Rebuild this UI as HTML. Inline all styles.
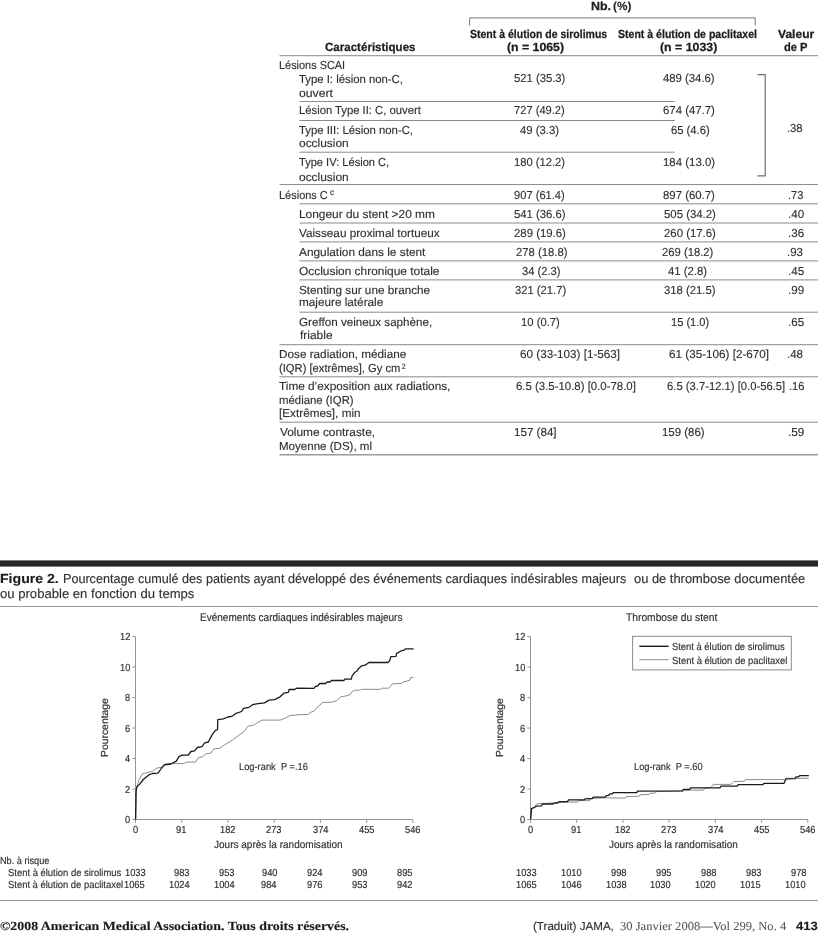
<!DOCTYPE html>
<html lang="fr">
<head>
<meta charset="utf-8">
<title>Figure 2 – JAMA, 30 Janvier 2008</title>
<style>
html,body{margin:0;padding:0;background:#fff}
body{width:819px;height:934px;position:relative;overflow:hidden;font-family:"Liberation Sans",sans-serif}
.g{position:absolute;left:0;top:0}
.t{position:absolute;white-space:pre;transform-origin:0 0;line-height:1;text-rendering:geometricPrecision;-webkit-text-stroke:0.14px currentColor}
section,figure,figcaption,footer,.plots{margin:0;padding:0;display:block;position:static}
</style>
</head>
<body>
<svg class="g" width="819" height="934" viewBox="0 0 819 934">
<line x1="279.5" y1="55.7" x2="818" y2="55.7" stroke="#8a8a8a" stroke-width="1"/>
<line x1="299.5" y1="101.5" x2="674.7" y2="101.5" stroke="#8a8a8a" stroke-width="1"/>
<line x1="299.5" y1="120.5" x2="674.7" y2="120.5" stroke="#8a8a8a" stroke-width="1"/>
<line x1="299.5" y1="152.2" x2="674.7" y2="152.2" stroke="#8a8a8a" stroke-width="1"/>
<line x1="279.5" y1="184.55" x2="818" y2="184.55" stroke="#8a8a8a" stroke-width="1"/>
<line x1="299.5" y1="203.8" x2="818" y2="203.8" stroke="#8a8a8a" stroke-width="1"/>
<line x1="299.5" y1="223.0" x2="818" y2="223.0" stroke="#8a8a8a" stroke-width="1"/>
<line x1="299.5" y1="241.9" x2="818" y2="241.9" stroke="#8a8a8a" stroke-width="1"/>
<line x1="299.5" y1="260.9" x2="818" y2="260.9" stroke="#8a8a8a" stroke-width="1"/>
<line x1="299.5" y1="279.9" x2="818" y2="279.9" stroke="#8a8a8a" stroke-width="1"/>
<line x1="299.5" y1="312.2" x2="818" y2="312.2" stroke="#8a8a8a" stroke-width="1"/>
<line x1="279.5" y1="344.7" x2="818" y2="344.7" stroke="#8a8a8a" stroke-width="1"/>
<line x1="279.5" y1="376.8" x2="818" y2="376.8" stroke="#8a8a8a" stroke-width="1"/>
<line x1="279.5" y1="422.2" x2="818" y2="422.2" stroke="#8a8a8a" stroke-width="1"/>
<line x1="279.5" y1="454.8" x2="818" y2="454.8" stroke="#9a9a9a" stroke-width="1.6"/>
<polyline points="469.6,25.6 469.6,17.9 755.2,17.9 755.2,25.6" fill="none" stroke="#787878" stroke-width="1"/>
<polyline points="757.4,74.7 765.2,74.7 765.2,175.9 757.4,175.9" fill="none" stroke="#707070" stroke-width="1.2"/>
<rect x="0" y="560.4" width="818" height="6.2" fill="#262626"/>
<line x1="0" y1="606.5" x2="818" y2="606.5" stroke="#7a7a7a" stroke-width="0.75"/>
<line x1="0" y1="900.5" x2="818" y2="900.5" stroke="#7a7a7a" stroke-width="0.75"/>
<line x1="135.5" y1="636.62" x2="135.5" y2="819.5" stroke="#969696" stroke-width="1"/>
<line x1="135.5" y1="819.5" x2="412.82" y2="819.5" stroke="#969696" stroke-width="1"/>
<line x1="132.3" y1="819.5" x2="135.5" y2="819.5" stroke="#969696" stroke-width="1"/>
<line x1="132.3" y1="789.02" x2="135.5" y2="789.02" stroke="#969696" stroke-width="1"/>
<line x1="132.3" y1="758.54" x2="135.5" y2="758.54" stroke="#969696" stroke-width="1"/>
<line x1="132.3" y1="728.06" x2="135.5" y2="728.06" stroke="#969696" stroke-width="1"/>
<line x1="132.3" y1="697.58" x2="135.5" y2="697.58" stroke="#969696" stroke-width="1"/>
<line x1="132.3" y1="667.1" x2="135.5" y2="667.1" stroke="#969696" stroke-width="1"/>
<line x1="132.3" y1="636.62" x2="135.5" y2="636.62" stroke="#969696" stroke-width="1"/>
<line x1="135.5" y1="819.5" x2="135.5" y2="822.9" stroke="#969696" stroke-width="1"/>
<line x1="181.72" y1="819.5" x2="181.72" y2="822.9" stroke="#969696" stroke-width="1"/>
<line x1="227.94" y1="819.5" x2="227.94" y2="822.9" stroke="#969696" stroke-width="1"/>
<line x1="274.16" y1="819.5" x2="274.16" y2="822.9" stroke="#969696" stroke-width="1"/>
<line x1="320.38" y1="819.5" x2="320.38" y2="822.9" stroke="#969696" stroke-width="1"/>
<line x1="366.6" y1="819.5" x2="366.6" y2="822.9" stroke="#969696" stroke-width="1"/>
<line x1="412.82" y1="819.5" x2="412.82" y2="822.9" stroke="#969696" stroke-width="1"/>
<line x1="530.5" y1="636.62" x2="530.5" y2="819.5" stroke="#969696" stroke-width="1"/>
<line x1="530.5" y1="819.5" x2="807.82" y2="819.5" stroke="#969696" stroke-width="1"/>
<line x1="527.3" y1="819.5" x2="530.5" y2="819.5" stroke="#969696" stroke-width="1"/>
<line x1="527.3" y1="789.02" x2="530.5" y2="789.02" stroke="#969696" stroke-width="1"/>
<line x1="527.3" y1="758.54" x2="530.5" y2="758.54" stroke="#969696" stroke-width="1"/>
<line x1="527.3" y1="728.06" x2="530.5" y2="728.06" stroke="#969696" stroke-width="1"/>
<line x1="527.3" y1="697.58" x2="530.5" y2="697.58" stroke="#969696" stroke-width="1"/>
<line x1="527.3" y1="667.1" x2="530.5" y2="667.1" stroke="#969696" stroke-width="1"/>
<line x1="527.3" y1="636.62" x2="530.5" y2="636.62" stroke="#969696" stroke-width="1"/>
<line x1="530.5" y1="819.5" x2="530.5" y2="822.9" stroke="#969696" stroke-width="1"/>
<line x1="576.72" y1="819.5" x2="576.72" y2="822.9" stroke="#969696" stroke-width="1"/>
<line x1="622.94" y1="819.5" x2="622.94" y2="822.9" stroke="#969696" stroke-width="1"/>
<line x1="669.16" y1="819.5" x2="669.16" y2="822.9" stroke="#969696" stroke-width="1"/>
<line x1="715.38" y1="819.5" x2="715.38" y2="822.9" stroke="#969696" stroke-width="1"/>
<line x1="761.6" y1="819.5" x2="761.6" y2="822.9" stroke="#969696" stroke-width="1"/>
<line x1="807.82" y1="819.5" x2="807.82" y2="822.9" stroke="#969696" stroke-width="1"/>
<rect x="632.6" y="636.3" width="158.7" height="33.6" fill="#fff" stroke="#8a8a8a" stroke-width="1"/>
<line x1="639.3" y1="646.3" x2="668.6" y2="646.3" stroke="#1a1a1a" stroke-width="1.4"/>
<line x1="639.3" y1="659.7" x2="668.6" y2="659.7" stroke="#909090" stroke-width="1"/>
<polyline points="135.6,819.5 136.4,789.6 138.7,780.4 142.4,773.7 147,772.7 152.5,771.3 157,768 161.6,767.3 164.4,764 172.6,763.6 183.6,763.6 186.4,762.1 195.5,762.1 198.3,757.5 202.8,756.6 205.6,753.9 211.1,753 213.8,748.9 219.3,748.4 224.8,744.7 229.4,742 232.5,739.9 238.9,735.3 243.5,732.2 248,726.2 253.5,725.2 261.8,720.1 280.1,720.1 285.6,717.9 289.2,715.7 300.2,714.6 308.1,714.5 311,712.1 313.9,711.3 316.1,708.4 322.7,702.5 331.5,702.2 335.9,701.1 341,696.7 346.2,695.9 350.5,694.5 351.3,692.3 354.2,690.4 360.1,690.1 361.5,689.3 380.6,689.3 382.1,688.2 388.6,688.2 392.3,683.8 401.1,683.5 403.3,682 406.2,681.3 409.9,680.1 410.6,677.6 413.6,677.2" fill="none" stroke="#8c8c8c" stroke-width="1.0" stroke-linejoin="round"/>
<polyline points="135.6,819.5 136,791.4 136.9,786.8 139.7,784.1 143.3,779.5 148.8,774.9 152.5,773.5 158,773.1 161.6,768 164.4,764.9 170.8,764 176.3,761.2 179,756.6 181.8,755.2 188.2,755.2 190.9,751.5 194.6,750.8 197.3,747.5 201.9,746.6 204.7,742.9 208.3,742 210.2,738.3 212.9,733.7 215.7,730.1 217.5,729.8 217.8,719.7 223.3,718.8 227.9,717 232.5,716.1 236.1,713.3 241.6,711.5 243.5,708.4 249,707.3 252.6,704.7 258.1,703.6 264.5,702.9 269.1,700.1 274.6,699.6 280.1,696.8 283.8,693.2 288.3,692.3 289.2,689.5 294.7,689.5 296.6,688.2 313.9,688.3 315.4,686.4 317.6,686 319.8,683.5 325.6,683.5 327.1,682 330,682 331.5,680.5 344,680.5 344.7,679.1 351.3,679.1 352,676.2 354.9,672.2 357.1,671 358.6,668.4 361.5,665.9 365.2,665.2 368.9,662.5 387.9,662.5 389.7,660.8 390.8,656.7 396,656.4 396.7,653.4 400.4,651.2 404,650.2 405.5,648.8 413.6,648.8" fill="none" stroke="#1a1a1a" stroke-width="1.3" stroke-linejoin="round"/>
<polyline points="530.6,819.3 531.9,809.5 534.7,806.7 536.5,804 542,803.6 568.5,802.1 577.7,802.1 578.6,800.5 589.6,800.7 590.5,798.5 606.1,797.8 625.3,798.1 626.2,796.6 639,796.3 640,794.8 649.1,794.4 650,793.3 655.5,793 656.4,791.5 682,791 690.6,790.2 703.5,790.2 704.4,788.4 710.8,787.5 713.5,784.4 730.9,784.4 733.7,781.6 744.7,781.2 745.6,779.6 785,779.6 785.9,778.3 808.8,778.3" fill="none" stroke="#8c8c8c" stroke-width="1.0" stroke-linejoin="round"/>
<polyline points="530.6,819.3 531.4,808.5 534.7,807.3 536.5,806.2 541.6,805.8 542.3,804 553,804 554.8,803 557.5,803 558.8,801.6 567.6,801.6 568.5,799.9 584.1,799.9 585,798.8 592.3,798.5 593.3,797.2 605.2,797.2 606.1,795.7 608.8,795.3 609.7,793.9 612.5,793.9 613.4,792.6 636.8,792.6 637.6,791.1 682.4,790.8 683.3,789.3 689.7,789.3 690.6,787.8 719.9,787.8 720.9,786.2 737.3,786.2 738.3,784.7 763,784.7 763.9,783.3 784,783.3 785.9,778.9 795,778.7 796,776.8 798.7,776.8 799.6,775.6 808.8,775.6" fill="none" stroke="#1a1a1a" stroke-width="1.3" stroke-linejoin="round"/>
</svg>
<section class="tbl" aria-label="Tableau">
<span class="t" style="left:590.81px;top:1px;font:700 11.8px/1 'Liberation Sans', sans-serif;-webkit-text-stroke-width:0.25px;color:#1c1c1c;transform:scaleX(1.0514);">Nb.</span>
<span class="t" style="left:613.00px;top:1px;font:700 11.8px/1 'Liberation Sans', sans-serif;-webkit-text-stroke-width:0.12px;color:#222;">(%)</span>
<span class="t" style="left:469.98px;top:29px;font:700 11.8px/1 'Liberation Sans', sans-serif;-webkit-text-stroke-width:0.25px;color:#1c1c1c;transform:scaleX(0.8906);">Stent à élution de sirolimus</span>
<span class="t" style="left:507.38px;top:42px;font:700 11.8px/1 'Liberation Sans', sans-serif;-webkit-text-stroke-width:0.25px;color:#1c1c1c;transform:scaleX(1.0419);">(n = 1065)</span>
<span class="t" style="left:617.78px;top:29px;font:700 11.8px/1 'Liberation Sans', sans-serif;-webkit-text-stroke-width:0.25px;color:#1c1c1c;transform:scaleX(0.8947);">Stent à élution de paclitaxel</span>
<span class="t" style="left:659.78px;top:42px;font:700 11.8px/1 'Liberation Sans', sans-serif;-webkit-text-stroke-width:0.25px;color:#1c1c1c;transform:scaleX(1.0456);">(n = 1033)</span>
<span class="t" style="left:325.21px;top:42px;font:700 11.8px/1 'Liberation Sans', sans-serif;-webkit-text-stroke-width:0.25px;color:#1c1c1c;transform:scaleX(0.9792);">Caractéristiques</span>
<span class="t" style="left:778.20px;top:29px;font:700 11.8px/1 'Liberation Sans', sans-serif;-webkit-text-stroke-width:0.25px;color:#1c1c1c;transform:scaleX(1.0241);">Valeur</span>
<span class="t" style="left:784.13px;top:42px;font:700 11.8px/1 'Liberation Sans', sans-serif;-webkit-text-stroke-width:0.25px;color:#1c1c1c;transform:scaleX(0.9443);">de P</span>
<span class="t" style="left:279.19px;top:60px;font:400 11.6px/1 'Liberation Sans', sans-serif;color:#303030;transform:scaleX(0.9416);">Lésions SCAI</span>
<span class="t" style="left:299.46px;top:74px;font:400 11.6px/1 'Liberation Sans', sans-serif;color:#303030;transform:scaleX(0.9777);">Type I: lésion non-C,</span>
<span class="t" style="left:299.17px;top:88px;font:400 11.6px/1 'Liberation Sans', sans-serif;color:#303030;transform:scaleX(1.0551);">ouvert</span>
<span class="t" style="left:298.97px;top:105px;font:400 11.6px/1 'Liberation Sans', sans-serif;color:#303030;transform:scaleX(0.9707);">Lésion Type II: C, ouvert</span>
<span class="t" style="left:299.46px;top:125px;font:400 11.6px/1 'Liberation Sans', sans-serif;color:#303030;transform:scaleX(0.9775);">Type III: Lésion non-C,</span>
<span class="t" style="left:299.19px;top:138px;font:400 11.6px/1 'Liberation Sans', sans-serif;color:#303030;transform:scaleX(1.0286);">occlusion</span>
<span class="t" style="left:299.46px;top:157px;font:400 11.6px/1 'Liberation Sans', sans-serif;color:#303030;transform:scaleX(0.9559);">Type IV: Lésion C,</span>
<span class="t" style="left:299.19px;top:172px;font:400 11.6px/1 'Liberation Sans', sans-serif;color:#303030;transform:scaleX(1.0286);">occlusion</span>
<span class="t" style="left:278.89px;top:190px;font:400 11.6px/1 'Liberation Sans', sans-serif;color:#303030;transform:scaleX(0.9465);">Lésions C</span>
<span class="t" style="left:298.93px;top:209px;font:400 11.6px/1 'Liberation Sans', sans-serif;color:#303030;transform:scaleX(1.0260);">Longeur du stent &gt;20 mm</span>
<span class="t" style="left:299.20px;top:228px;font:400 11.6px/1 'Liberation Sans', sans-serif;color:#303030;transform:scaleX(1.0122);">Vaisseau proximal tortueux</span>
<span class="t" style="left:299.20px;top:247px;font:400 11.6px/1 'Liberation Sans', sans-serif;color:#303030;transform:scaleX(1.0214);">Angulation dans le stent</span>
<span class="t" style="left:299.19px;top:266px;font:400 11.6px/1 'Liberation Sans', sans-serif;color:#303030;transform:scaleX(1.0276);">Occlusion chronique totale</span>
<span class="t" style="left:299.19px;top:285px;font:400 11.6px/1 'Liberation Sans', sans-serif;color:#303030;transform:scaleX(1.0120);">Stenting sur une branche</span>
<span class="t" style="left:298.94px;top:297px;font:400 11.6px/1 'Liberation Sans', sans-serif;color:#303030;transform:scaleX(1.0134);">majeure latérale</span>
<span class="t" style="left:299.20px;top:317px;font:400 11.6px/1 'Liberation Sans', sans-serif;color:#303030;transform:scaleX(1.0053);">Greffon veineux saphène,</span>
<span class="t" style="left:299.70px;top:330px;font:400 11.6px/1 'Liberation Sans', sans-serif;color:#303030;transform:scaleX(1.0304);">friable</span>
<span class="t" style="left:278.84px;top:349px;font:400 11.6px/1 'Liberation Sans', sans-serif;color:#303030;transform:scaleX(1.0129);">Dose radiation, médiane</span>
<span class="t" style="left:279.12px;top:363px;font:400 11.6px/1 'Liberation Sans', sans-serif;color:#303030;transform:scaleX(0.9663);">(IQR) [extrêmes], Gy cm</span>
<span class="t" style="left:279.35px;top:381px;font:400 11.6px/1 'Liberation Sans', sans-serif;color:#303030;transform:scaleX(1.0176);">Time d’exposition aux radiations,</span>
<span class="t" style="left:278.86px;top:395px;font:400 11.6px/1 'Liberation Sans', sans-serif;color:#303030;transform:scaleX(0.9819);">médiane (IQR)</span>
<span class="t" style="left:278.84px;top:408px;font:400 11.6px/1 'Liberation Sans', sans-serif;color:#303030;transform:scaleX(1.0127);">[Extrêmes], min</span>
<span class="t" style="left:279.60px;top:427px;font:400 11.6px/1 'Liberation Sans', sans-serif;color:#303030;transform:scaleX(1.0245);">Volume contraste,</span>
<span class="t" style="left:278.85px;top:441px;font:400 11.6px/1 'Liberation Sans', sans-serif;color:#303030;transform:scaleX(0.9957);">Moyenne (DS), ml</span>
<span class="t" style="left:329.75px;top:188px;font:400 8.4px/1 'Liberation Sans', sans-serif;color:#303030;transform:scaleX(0.9867);">c</span>
<span class="t" style="left:401.59px;top:363px;font:400 7.6px/1 'Liberation Sans', sans-serif;color:#303030;transform:scaleX(0.8533);">2</span>
<span class="t" style="left:513.81px;top:73px;font:400 11.6px/1 'Liberation Sans', sans-serif;color:#303030;transform:scaleX(0.9700);">521 (35.3)</span>
<span class="t" style="left:514.32px;top:105px;font:400 11.6px/1 'Liberation Sans', sans-serif;color:#303030;transform:scaleX(0.9604);">727 (49.2)</span>
<span class="t" style="left:520.36px;top:125px;font:400 11.6px/1 'Liberation Sans', sans-serif;color:#303030;transform:scaleX(0.9769);">49 (3.3)</span>
<span class="t" style="left:514.08px;top:157px;font:400 11.6px/1 'Liberation Sans', sans-serif;color:#303030;transform:scaleX(0.9650);">180 (12.2)</span>
<span class="t" style="left:514.32px;top:190px;font:400 11.6px/1 'Liberation Sans', sans-serif;color:#303030;transform:scaleX(0.9604);">907 (61.4)</span>
<span class="t" style="left:514.31px;top:209px;font:400 11.6px/1 'Liberation Sans', sans-serif;color:#303030;transform:scaleX(0.9739);">541 (36.6)</span>
<span class="t" style="left:513.91px;top:228px;font:400 11.6px/1 'Liberation Sans', sans-serif;color:#303030;transform:scaleX(0.9816);">289 (19.6)</span>
<span class="t" style="left:515.71px;top:247px;font:400 11.6px/1 'Liberation Sans', sans-serif;color:#303030;transform:scaleX(0.9739);">278 (18.8)</span>
<span class="t" style="left:521.52px;top:266px;font:400 11.6px/1 'Liberation Sans', sans-serif;color:#303030;transform:scaleX(0.9652);">34 (2.3)</span>
<span class="t" style="left:514.62px;top:285px;font:400 11.6px/1 'Liberation Sans', sans-serif;color:#303030;transform:scaleX(0.9681);">321 (21.7)</span>
<span class="t" style="left:521.27px;top:317px;font:400 11.6px/1 'Liberation Sans', sans-serif;color:#303030;transform:scaleX(0.9714);">10 (0.7)</span>
<span class="t" style="left:520.10px;top:349px;font:400 11.6px/1 'Liberation Sans', sans-serif;color:#303030;transform:scaleX(1.0082);">60 (33-103) [1-563]</span>
<span class="t" style="left:516.31px;top:381px;font:400 11.6px/1 'Liberation Sans', sans-serif;color:#303030;transform:scaleX(0.9842);">6.5 (3.5-10.8) [0.0-78.0]</span>
<span class="t" style="left:514.05px;top:427px;font:400 11.6px/1 'Liberation Sans', sans-serif;color:#303030;">157 (84]</span>
<span class="t" style="left:663.06px;top:73px;font:400 11.6px/1 'Liberation Sans', sans-serif;color:#303030;transform:scaleX(0.9769);">489 (34.6)</span>
<span class="t" style="left:662.81px;top:105px;font:400 11.6px/1 'Liberation Sans', sans-serif;color:#303030;transform:scaleX(0.9816);">674 (47.7)</span>
<span class="t" style="left:671.02px;top:125px;font:400 11.6px/1 'Liberation Sans', sans-serif;color:#303030;transform:scaleX(0.9677);">65 (4.6)</span>
<span class="t" style="left:662.56px;top:157px;font:400 11.6px/1 'Liberation Sans', sans-serif;color:#303030;transform:scaleX(0.9864);">184 (13.0)</span>
<span class="t" style="left:662.81px;top:190px;font:400 11.6px/1 'Liberation Sans', sans-serif;color:#303030;transform:scaleX(0.9816);">897 (60.7)</span>
<span class="t" style="left:663.51px;top:209px;font:400 11.6px/1 'Liberation Sans', sans-serif;color:#303030;transform:scaleX(0.9816);">505 (34.2)</span>
<span class="t" style="left:663.51px;top:228px;font:400 11.6px/1 'Liberation Sans', sans-serif;color:#303030;transform:scaleX(0.9816);">260 (17.6)</span>
<span class="t" style="left:662.21px;top:247px;font:400 11.6px/1 'Liberation Sans', sans-serif;color:#303030;transform:scaleX(0.9720);">269 (18.2)</span>
<span class="t" style="left:668.16px;top:266px;font:400 11.6px/1 'Liberation Sans', sans-serif;color:#303030;transform:scaleX(0.9795);">41 (2.8)</span>
<span class="t" style="left:664.21px;top:285px;font:400 11.6px/1 'Liberation Sans', sans-serif;color:#303030;transform:scaleX(0.9739);">318 (21.5)</span>
<span class="t" style="left:670.78px;top:317px;font:400 11.6px/1 'Liberation Sans', sans-serif;color:#303030;transform:scaleX(0.9558);">15 (1.0)</span>
<span class="t" style="left:669.30px;top:349px;font:400 11.6px/1 'Liberation Sans', sans-serif;color:#303030;transform:scaleX(1.0082);">61 (35-106) [2-670]</span>
<span class="t" style="left:666.91px;top:381px;font:400 11.6px/1 'Liberation Sans', sans-serif;color:#303030;transform:scaleX(0.9701);">6.5 (3.7-12.1) [0.0-56.5]</span>
<span class="t" style="left:661.96px;top:427px;font:400 11.6px/1 'Liberation Sans', sans-serif;color:#303030;transform:scaleX(0.9868);">159 (86)</span>
<span class="t" style="left:786.73px;top:123px;font:400 11.6px/1 'Liberation Sans', sans-serif;color:#303030;transform:scaleX(0.9695);">.38</span>
<span class="t" style="left:788.05px;top:190px;font:400 11.6px/1 'Liberation Sans', sans-serif;color:#303030;transform:scaleX(0.9492);">.73</span>
<span class="t" style="left:788.00px;top:209px;font:400 11.6px/1 'Liberation Sans', sans-serif;color:#303030;">.40</span>
<span class="t" style="left:788.00px;top:228px;font:400 11.6px/1 'Liberation Sans', sans-serif;color:#303030;">.36</span>
<span class="t" style="left:786.71px;top:247px;font:400 11.6px/1 'Liberation Sans', sans-serif;color:#303030;transform:scaleX(0.9898);">.93</span>
<span class="t" style="left:788.00px;top:266px;font:400 11.6px/1 'Liberation Sans', sans-serif;color:#303030;">.45</span>
<span class="t" style="left:788.00px;top:285px;font:400 11.6px/1 'Liberation Sans', sans-serif;color:#303030;">.99</span>
<span class="t" style="left:788.00px;top:317px;font:400 11.6px/1 'Liberation Sans', sans-serif;color:#303030;">.65</span>
<span class="t" style="left:786.71px;top:349px;font:400 11.6px/1 'Liberation Sans', sans-serif;color:#303030;transform:scaleX(0.9898);">.48</span>
<span class="t" style="left:788.65px;top:381px;font:400 11.6px/1 'Liberation Sans', sans-serif;color:#303030;transform:scaleX(0.9492);">.16</span>
<span class="t" style="left:787.98px;top:427px;font:400 11.6px/1 'Liberation Sans', sans-serif;color:#303030;transform:scaleX(1.0169);">.59</span>
</section>
<figure class="fig">
<figcaption>
<span class="t" style="left:-0.00px;top:572px;font:700 13.2px/1 'Liberation Sans', sans-serif;color:#1c1c1c;transform:scaleX(1.0692);">Figure 2.</span>
<span class="t" style="left:62.63px;top:572px;font:400 13.0px/1 'Liberation Sans', sans-serif;color:#303030;transform:scaleX(0.9694);">Pourcentage cumulé des patients ayant développé des événements cardiaques indésirables majeurs</span>
<span class="t" style="left:634.30px;top:572px;font:400 13.0px/1 'Liberation Sans', sans-serif;color:#303030;transform:scaleX(0.9916);">ou de thrombose documentée</span>
<span class="t" style="left:-0.00px;top:587px;font:400 13.0px/1 'Liberation Sans', sans-serif;color:#303030;transform:scaleX(1.0075);">ou probable en fonction du temps</span>
</figcaption>
<div class="plots">
<span class="t" style="left:200.32px;top:613px;font:400 11.0px/1 'Liberation Sans', sans-serif;-webkit-text-stroke-width:0.16px;color:#303030;transform:scaleX(0.9122);">Evénements cardiaques indésirables majeurs</span>
<span class="t" style="left:626.27px;top:613px;font:400 11.0px/1 'Liberation Sans', sans-serif;-webkit-text-stroke-width:0.16px;color:#303030;transform:scaleX(0.9333);">Thrombose du stent</span>
<span class="t" style="left:672.14px;top:643px;font:400 10.2px/1 'Liberation Sans', sans-serif;-webkit-text-stroke-width:0.16px;color:#303030;transform:scaleX(0.9218);">Stent à élution de sirolimus</span>
<span class="t" style="left:672.14px;top:657px;font:400 10.2px/1 'Liberation Sans', sans-serif;-webkit-text-stroke-width:0.16px;color:#303030;transform:scaleX(0.9263);">Stent à élution de paclitaxel</span>
<span class="t" style="left:239.02px;top:763px;font:400 10.2px/1 'Liberation Sans', sans-serif;-webkit-text-stroke-width:0.16px;color:#303030;transform:scaleX(0.9131);">Log-rank  P =.16</span>
<span class="t" style="left:634.02px;top:763px;font:400 10.2px/1 'Liberation Sans', sans-serif;-webkit-text-stroke-width:0.16px;color:#303030;transform:scaleX(0.9101);">Log-rank  P =.60</span>
<span class="t" style="left:214.40px;top:840px;font:400 10.6px/1 'Liberation Sans', sans-serif;-webkit-text-stroke-width:0.16px;color:#303030;transform:scaleX(0.9454);">Jours après la randomisation</span>
<span class="t" style="left:609.20px;top:840px;font:400 10.6px/1 'Liberation Sans', sans-serif;-webkit-text-stroke-width:0.16px;color:#303030;transform:scaleX(0.9476);">Jours après la randomisation</span>
<span class="t" style="left:0.33px;top:857px;font:400 10.2px/1 'Liberation Sans', sans-serif;-webkit-text-stroke-width:0.16px;color:#303030;transform:scaleX(0.8986);">Nb. à risque</span>
<span class="t" style="left:7.74px;top:869px;font:400 10.2px/1 'Liberation Sans', sans-serif;-webkit-text-stroke-width:0.16px;color:#303030;transform:scaleX(0.9259);">Stent à élution de sirolimus</span>
<span class="t" style="left:7.74px;top:881px;font:400 10.2px/1 'Liberation Sans', sans-serif;-webkit-text-stroke-width:0.16px;color:#303030;transform:scaleX(0.9247);">Stent à élution de paclitaxel</span>
<span class="t" style="left:124.75px;top:869px;font:400 10.2px/1 'Liberation Sans', sans-serif;-webkit-text-stroke-width:0.16px;color:#2a2a2a;transform:scaleX(0.9100);">1033</span>
<span class="t" style="left:174.46px;top:869px;font:400 10.2px/1 'Liberation Sans', sans-serif;-webkit-text-stroke-width:0.16px;color:#2a2a2a;transform:scaleX(0.9100);">983</span>
<span class="t" style="left:219.26px;top:869px;font:400 10.2px/1 'Liberation Sans', sans-serif;-webkit-text-stroke-width:0.16px;color:#2a2a2a;transform:scaleX(0.9100);">953</span>
<span class="t" style="left:261.76px;top:869px;font:400 10.2px/1 'Liberation Sans', sans-serif;-webkit-text-stroke-width:0.16px;color:#2a2a2a;transform:scaleX(0.9100);">940</span>
<span class="t" style="left:307.06px;top:869px;font:400 10.2px/1 'Liberation Sans', sans-serif;-webkit-text-stroke-width:0.16px;color:#2a2a2a;transform:scaleX(0.9100);">924</span>
<span class="t" style="left:352.09px;top:869px;font:400 10.2px/1 'Liberation Sans', sans-serif;-webkit-text-stroke-width:0.16px;color:#2a2a2a;transform:scaleX(0.9100);">909</span>
<span class="t" style="left:396.66px;top:869px;font:400 10.2px/1 'Liberation Sans', sans-serif;-webkit-text-stroke-width:0.16px;color:#2a2a2a;transform:scaleX(0.9100);">895</span>
<span class="t" style="left:124.45px;top:881px;font:400 10.2px/1 'Liberation Sans', sans-serif;-webkit-text-stroke-width:0.16px;color:#2a2a2a;transform:scaleX(0.9100);">1065</span>
<span class="t" style="left:168.92px;top:881px;font:400 10.2px/1 'Liberation Sans', sans-serif;-webkit-text-stroke-width:0.16px;color:#2a2a2a;transform:scaleX(0.9100);">1024</span>
<span class="t" style="left:213.72px;top:881px;font:400 10.2px/1 'Liberation Sans', sans-serif;-webkit-text-stroke-width:0.16px;color:#2a2a2a;transform:scaleX(0.9100);">1004</span>
<span class="t" style="left:261.46px;top:881px;font:400 10.2px/1 'Liberation Sans', sans-serif;-webkit-text-stroke-width:0.16px;color:#2a2a2a;transform:scaleX(0.9100);">984</span>
<span class="t" style="left:306.76px;top:881px;font:400 10.2px/1 'Liberation Sans', sans-serif;-webkit-text-stroke-width:0.16px;color:#2a2a2a;transform:scaleX(0.9100);">976</span>
<span class="t" style="left:351.56px;top:881px;font:400 10.2px/1 'Liberation Sans', sans-serif;-webkit-text-stroke-width:0.16px;color:#2a2a2a;transform:scaleX(0.9100);">953</span>
<span class="t" style="left:396.58px;top:881px;font:400 10.2px/1 'Liberation Sans', sans-serif;-webkit-text-stroke-width:0.16px;color:#2a2a2a;transform:scaleX(0.9100);">942</span>
<span class="t" style="left:516.45px;top:869px;font:400 10.2px/1 'Liberation Sans', sans-serif;-webkit-text-stroke-width:0.16px;color:#2a2a2a;transform:scaleX(0.9100);">1033</span>
<span class="t" style="left:561.12px;top:869px;font:400 10.2px/1 'Liberation Sans', sans-serif;-webkit-text-stroke-width:0.16px;color:#2a2a2a;transform:scaleX(0.9100);">1010</span>
<span class="t" style="left:611.26px;top:869px;font:400 10.2px/1 'Liberation Sans', sans-serif;-webkit-text-stroke-width:0.16px;color:#2a2a2a;transform:scaleX(0.9100);">998</span>
<span class="t" style="left:656.06px;top:869px;font:400 10.2px/1 'Liberation Sans', sans-serif;-webkit-text-stroke-width:0.16px;color:#2a2a2a;transform:scaleX(0.9100);">995</span>
<span class="t" style="left:701.06px;top:869px;font:400 10.2px/1 'Liberation Sans', sans-serif;-webkit-text-stroke-width:0.16px;color:#2a2a2a;transform:scaleX(0.9100);">988</span>
<span class="t" style="left:745.76px;top:869px;font:400 10.2px/1 'Liberation Sans', sans-serif;-webkit-text-stroke-width:0.16px;color:#2a2a2a;transform:scaleX(0.9100);">983</span>
<span class="t" style="left:790.76px;top:869px;font:400 10.2px/1 'Liberation Sans', sans-serif;-webkit-text-stroke-width:0.16px;color:#2a2a2a;transform:scaleX(0.9100);">978</span>
<span class="t" style="left:515.85px;top:881px;font:400 10.2px/1 'Liberation Sans', sans-serif;-webkit-text-stroke-width:0.16px;color:#2a2a2a;transform:scaleX(0.9100);">1065</span>
<span class="t" style="left:560.75px;top:881px;font:400 10.2px/1 'Liberation Sans', sans-serif;-webkit-text-stroke-width:0.16px;color:#2a2a2a;transform:scaleX(0.9100);">1046</span>
<span class="t" style="left:605.65px;top:881px;font:400 10.2px/1 'Liberation Sans', sans-serif;-webkit-text-stroke-width:0.16px;color:#2a2a2a;transform:scaleX(0.9100);">1038</span>
<span class="t" style="left:650.22px;top:881px;font:400 10.2px/1 'Liberation Sans', sans-serif;-webkit-text-stroke-width:0.16px;color:#2a2a2a;transform:scaleX(0.9100);">1030</span>
<span class="t" style="left:695.22px;top:881px;font:400 10.2px/1 'Liberation Sans', sans-serif;-webkit-text-stroke-width:0.16px;color:#2a2a2a;transform:scaleX(0.9100);">1020</span>
<span class="t" style="left:740.15px;top:881px;font:400 10.2px/1 'Liberation Sans', sans-serif;-webkit-text-stroke-width:0.16px;color:#2a2a2a;transform:scaleX(0.9100);">1015</span>
<span class="t" style="left:784.92px;top:881px;font:400 10.2px/1 'Liberation Sans', sans-serif;-webkit-text-stroke-width:0.16px;color:#2a2a2a;transform:scaleX(0.9100);">1010</span>
<span class="t" style="left:125.00px;top:816px;font:400 10.2px/1 'Liberation Sans', sans-serif;-webkit-text-stroke-width:0.16px;color:#2a2a2a;transform:scaleX(0.9100);">0</span>
<span class="t" style="left:520.00px;top:816px;font:400 10.2px/1 'Liberation Sans', sans-serif;-webkit-text-stroke-width:0.16px;color:#2a2a2a;transform:scaleX(0.9100);">0</span>
<span class="t" style="left:125.22px;top:786px;font:400 10.2px/1 'Liberation Sans', sans-serif;-webkit-text-stroke-width:0.16px;color:#2a2a2a;transform:scaleX(0.9100);">2</span>
<span class="t" style="left:520.22px;top:786px;font:400 10.2px/1 'Liberation Sans', sans-serif;-webkit-text-stroke-width:0.16px;color:#2a2a2a;transform:scaleX(0.9100);">2</span>
<span class="t" style="left:125.00px;top:755px;font:400 10.2px/1 'Liberation Sans', sans-serif;-webkit-text-stroke-width:0.16px;color:#2a2a2a;transform:scaleX(0.9100);">4</span>
<span class="t" style="left:520.00px;top:755px;font:400 10.2px/1 'Liberation Sans', sans-serif;-webkit-text-stroke-width:0.16px;color:#2a2a2a;transform:scaleX(0.9100);">4</span>
<span class="t" style="left:125.22px;top:725px;font:400 10.2px/1 'Liberation Sans', sans-serif;-webkit-text-stroke-width:0.16px;color:#2a2a2a;transform:scaleX(0.9100);">6</span>
<span class="t" style="left:520.22px;top:725px;font:400 10.2px/1 'Liberation Sans', sans-serif;-webkit-text-stroke-width:0.16px;color:#2a2a2a;transform:scaleX(0.9100);">6</span>
<span class="t" style="left:125.22px;top:694px;font:400 10.2px/1 'Liberation Sans', sans-serif;-webkit-text-stroke-width:0.16px;color:#2a2a2a;transform:scaleX(0.9100);">8</span>
<span class="t" style="left:520.22px;top:694px;font:400 10.2px/1 'Liberation Sans', sans-serif;-webkit-text-stroke-width:0.16px;color:#2a2a2a;transform:scaleX(0.9100);">8</span>
<span class="t" style="left:119.99px;top:664px;font:400 10.2px/1 'Liberation Sans', sans-serif;-webkit-text-stroke-width:0.16px;color:#2a2a2a;transform:scaleX(0.9100);">10</span>
<span class="t" style="left:514.99px;top:664px;font:400 10.2px/1 'Liberation Sans', sans-serif;-webkit-text-stroke-width:0.16px;color:#2a2a2a;transform:scaleX(0.9100);">10</span>
<span class="t" style="left:119.99px;top:633px;font:400 10.2px/1 'Liberation Sans', sans-serif;-webkit-text-stroke-width:0.16px;color:#2a2a2a;transform:scaleX(0.9100);">12</span>
<span class="t" style="left:514.99px;top:633px;font:400 10.2px/1 'Liberation Sans', sans-serif;-webkit-text-stroke-width:0.16px;color:#2a2a2a;transform:scaleX(0.9100);">12</span>
<span class="t" style="left:132.88px;top:826px;font:400 10.2px/1 'Liberation Sans', sans-serif;-webkit-text-stroke-width:0.16px;color:#2a2a2a;transform:scaleX(0.9100);">0</span>
<span class="t" style="left:527.88px;top:826px;font:400 10.2px/1 'Liberation Sans', sans-serif;-webkit-text-stroke-width:0.16px;color:#2a2a2a;transform:scaleX(0.9100);">0</span>
<span class="t" style="left:176.49px;top:826px;font:400 10.2px/1 'Liberation Sans', sans-serif;-webkit-text-stroke-width:0.16px;color:#2a2a2a;transform:scaleX(0.9100);">91</span>
<span class="t" style="left:571.49px;top:826px;font:400 10.2px/1 'Liberation Sans', sans-serif;-webkit-text-stroke-width:0.16px;color:#2a2a2a;transform:scaleX(0.9100);">91</span>
<span class="t" style="left:220.09px;top:826px;font:400 10.2px/1 'Liberation Sans', sans-serif;-webkit-text-stroke-width:0.16px;color:#2a2a2a;transform:scaleX(0.9100);">182</span>
<span class="t" style="left:615.09px;top:826px;font:400 10.2px/1 'Liberation Sans', sans-serif;-webkit-text-stroke-width:0.16px;color:#2a2a2a;transform:scaleX(0.9100);">182</span>
<span class="t" style="left:266.31px;top:826px;font:400 10.2px/1 'Liberation Sans', sans-serif;-webkit-text-stroke-width:0.16px;color:#2a2a2a;transform:scaleX(0.9100);">273</span>
<span class="t" style="left:661.31px;top:826px;font:400 10.2px/1 'Liberation Sans', sans-serif;-webkit-text-stroke-width:0.16px;color:#2a2a2a;transform:scaleX(0.9100);">273</span>
<span class="t" style="left:312.64px;top:826px;font:400 10.2px/1 'Liberation Sans', sans-serif;-webkit-text-stroke-width:0.16px;color:#2a2a2a;transform:scaleX(0.9100);">374</span>
<span class="t" style="left:707.64px;top:826px;font:400 10.2px/1 'Liberation Sans', sans-serif;-webkit-text-stroke-width:0.16px;color:#2a2a2a;transform:scaleX(0.9100);">374</span>
<span class="t" style="left:358.98px;top:826px;font:400 10.2px/1 'Liberation Sans', sans-serif;-webkit-text-stroke-width:0.16px;color:#2a2a2a;transform:scaleX(0.9100);">455</span>
<span class="t" style="left:753.98px;top:826px;font:400 10.2px/1 'Liberation Sans', sans-serif;-webkit-text-stroke-width:0.16px;color:#2a2a2a;transform:scaleX(0.9100);">455</span>
<span class="t" style="left:405.08px;top:826px;font:400 10.2px/1 'Liberation Sans', sans-serif;-webkit-text-stroke-width:0.16px;color:#2a2a2a;transform:scaleX(0.9100);">546</span>
<span class="t" style="left:800.08px;top:826px;font:400 10.2px/1 'Liberation Sans', sans-serif;-webkit-text-stroke-width:0.16px;color:#2a2a2a;transform:scaleX(0.9100);">546</span>
<span class="t" style="left:101.06px;top:757.06px;font:400 10.2px/1 'Liberation Sans', sans-serif;-webkit-text-stroke-width:0.16px;color:#2a2a2a;transform:rotate(-90deg) scaleX(1.0185);">Pourcentage</span>
<span class="t" style="left:496.06px;top:757.06px;font:400 10.2px/1 'Liberation Sans', sans-serif;-webkit-text-stroke-width:0.16px;color:#2a2a2a;transform:rotate(-90deg) scaleX(1.0185);">Pourcentage</span>
</div>
</figure>
<footer>
<span class="t" style="left:0.14px;top:920px;font:700 12.4px/1 'Liberation Serif', serif;color:#1c1c1c;transform:scaleX(1.1190);">©2008 American Medical Association. Tous droits réservés.</span>
<span class="t" style="left:532.50px;top:922px;font:400 11.5px/1 'Liberation Sans', sans-serif;color:#303030;transform:scaleX(1.0095);">(Traduit) JAMA,</span>
<span class="t" style="left:619.58px;top:920px;font:400 12.2px/1 'Liberation Serif', serif;-webkit-text-stroke-width:0.05px;color:#555;transform:scaleX(1.0308);">30 Janvier 2008—Vol 299, No. 4</span>
<span class="t" style="left:796.30px;top:920px;font:700 12px/1 'Liberation Sans', sans-serif;color:#1c1c1c;transform:scaleX(1.0886);">413</span>
</footer>

</body>
</html>
